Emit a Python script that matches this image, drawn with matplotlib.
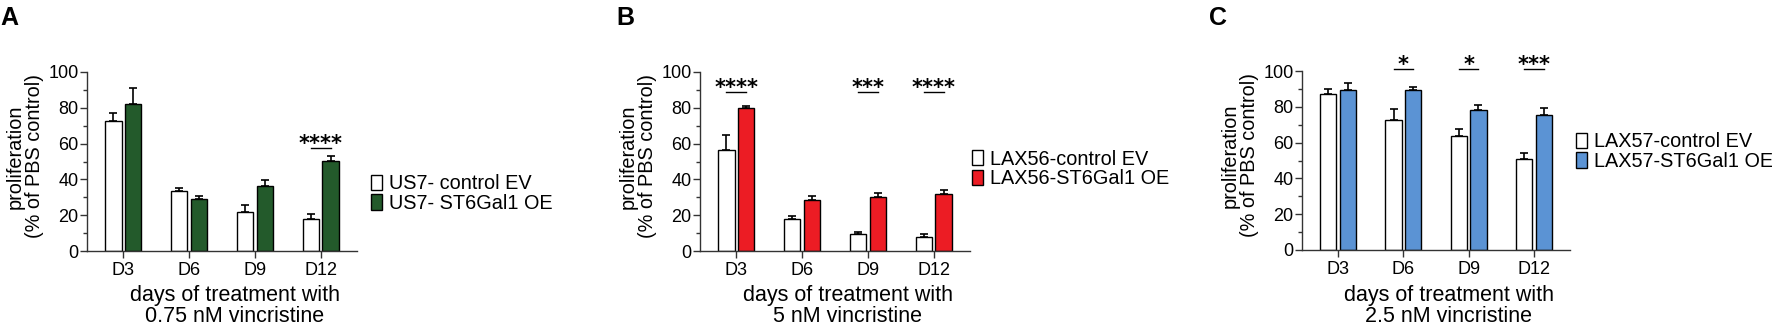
import matplotlib
matplotlib.use("Agg")
import matplotlib.pyplot as plt
from matplotlib.patches import Patch
import matplotlib.transforms as mtransforms
import numpy as np

plt.rcParams['font.family'] = ['Liberation Sans', 'DejaVu Sans']

# ---------------- data ----------------
days = ["D3", "D6", "D9", "D12"]

a_ev = [72.4, 33.5, 22.0, 17.9]
a_ev_err = [4.7, 1.9, 3.7, 2.8]
a_oe = [82.1, 28.9, 36.3, 50.5]
a_oe_err = [9.1, 1.8, 3.6, 2.8]
a_labels = ["US7- control EV", "US7- ST6Gal1 OE"]
a_sig = ["", "", "", "****"]
a_sig_y = [0, 0, 0, 57.5]

b_ev = [56.2, 17.9, 9.7, 7.6]
b_ev_err = [8.6, 1.5, 0.7, 1.7]
b_oe = [79.9, 28.3, 30.0, 32.0]
b_oe_err = [1.1, 2.4, 2.4, 1.9]
b_labels = ["LAX56-control EV", "LAX56-ST6Gal1 OE"]
b_sig = ["****", "", "***", "****"]
b_sig_y = [88.7, 0, 88.7, 88.7]

c_ev = [87.2, 72.6, 63.9, 50.7]
c_ev_err = [2.9, 6.2, 3.9, 3.7]
c_oe = [89.2, 89.2, 78.0, 75.2]
c_oe_err = [3.9, 2.0, 2.8, 4.3]
c_labels = ["LAX57-control EV", "LAX57-ST6Gal1 OE"]
c_sig = ["", "*", "*", "***"]
c_sig_y = [0, 101, 101, 101]

panel_letters = ["A", "B", "C"]
xlabels = ["days of treatment with\n0.75 nM vincristine",
           "days of treatment with\n5 nM vincristine",
           "days of treatment with\n2.5 nM vincristine"]
ylabel = "proliferation\n(% of PBS control)"
oe_colors = ["#235a2b", "#ec1c24", "#5b93d4"]

# ---------------- layout ----------------
W, H = 1772, 328
fig = plt.figure(figsize=(W / 100, H / 100), dpi=100)

axes_px = [(87, 357, 72, 251), (700, 970, 72, 251), (1302, 1570, 71, 250)]
letter_px = [(0, 6), (616, 6), (1209, 6)]
legend_px = [(371, 193.5), (972, 169), (1576, 151.5)]

panels = [
    (a_ev, a_ev_err, a_oe, a_oe_err, a_labels, a_sig, a_sig_y),
    (b_ev, b_ev_err, b_oe, b_oe_err, b_labels, b_sig, b_sig_y),
    (c_ev, c_ev_err, c_oe, c_oe_err, c_labels, c_sig, c_sig_y),
]

FS_TICK = 13
FS_Y = 14.3
FS_LEG = 14.3
FS_X = 15.5
x = np.arange(len(days))
bw = 0.25
off = 0.15

for i, (ev, everr, oe, oeerr, labels, sig, sigy) in enumerate(panels):
    l, r, t, b = axes_px[i]
    ax = fig.add_axes([l / W, 1 - b / H, (r - l) / W, (b - t) / H])
    ax.bar(x - off, ev, bw, color="white", edgecolor="black", linewidth=1.0, zorder=2)
    ax.bar(x + off, oe, bw, color=oe_colors[i], edgecolor="black", linewidth=1.0, zorder=2)
    ax.errorbar(x - off, ev, yerr=[np.zeros(len(ev)), everr], fmt="none",
                ecolor="black", elinewidth=1.2, capsize=3, capthick=1.2, zorder=3)
    ax.errorbar(x + off, oe, yerr=[np.zeros(len(oe)), oeerr], fmt="none",
                ecolor="black", elinewidth=1.2, capsize=3, capthick=1.2, zorder=3)

    for j, s in enumerate(sig):
        if s:
            ax.plot([x[j] - off, x[j] + off], [sigy[j], sigy[j]], color="black",
                    lw=1.0, clip_on=False)
            ax.text(x[j], sigy[j] - 1.0, s, ha="center", va="baseline",
                    fontsize=15, fontweight="bold", family="DejaVu Sans",
                    clip_on=False)

    ax.set_xlim(-0.55, 3.55)
    ax.set_ylim(0, 100)
    ax.set_xticks(x)
    ax.set_xticklabels(days, fontsize=FS_TICK)
    ax.set_yticks(np.arange(0, 101, 20))
    ax.set_yticks(np.arange(10, 100, 20), minor=True)
    ax.tick_params(axis="y", which="major", length=5, width=1.0, pad=1,
                   labelsize=FS_TICK, color="#333333")
    ax.tick_params(axis="y", which="minor", length=3, width=1.0, color="#333333")
    ax.tick_params(axis="x", which="major", length=5, width=1.0, pad=3,
                   labelsize=FS_TICK, color="#333333")
    for sp in ["top", "right"]:
        ax.spines[sp].set_visible(False)
    for sp in ["left", "bottom"]:
        ax.spines[sp].set_linewidth(1.0)
        ax.spines[sp].set_color("#333333")

    # y label (two lines, centred 62 px left of the spine)
    ax.text(-62 / (r - l), 0.528, ylabel, rotation=90, ha="center", va="center",
            fontsize=FS_Y, linespacing=1.0, transform=ax.transAxes)
    # x label
    trans = mtransforms.blended_transform_factory(ax.transAxes, fig.transFigure)
    ax.text(0.548, 1 - 306 / H, xlabels[i], ha="center", va="center", fontsize=FS_X,
            linespacing=1.0, transform=trans)

    # legend
    handles = [Patch(facecolor="white", edgecolor="black", linewidth=1.0),
               Patch(facecolor=oe_colors[i], edgecolor="black", linewidth=1.0)]
    lx, ly = legend_px[i]
    fig.legend(handles, labels, loc="center left",
               bbox_to_anchor=(lx / W, 1 - ly / H), bbox_transform=fig.transFigure,
               frameon=False, fontsize=FS_LEG, handlelength=0.55, handleheight=0.8,
               handletextpad=0.35, labelspacing=0.05, borderpad=0, borderaxespad=0)

    # panel letter
    px, py = letter_px[i]
    fig.text(px / W, 1 - py / H, panel_letters[i], ha="left", va="top",
             fontsize=18, fontweight="bold")

fig.savefig("out.png", dpi=100, facecolor="white")
